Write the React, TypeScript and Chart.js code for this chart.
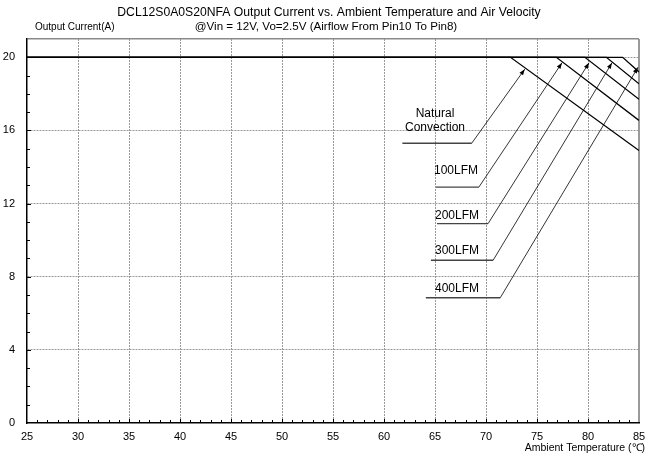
import React, { useEffect, useRef } from "react";
import { Chart, registerables } from "chart.js";

Chart.register(...registerables);

// ---- data ----
const titleLines = [
  "DCL12S0A0S20NFA Output Current vs. Ambient Temperature and Air Velocity",
  "@Vin = 12V, Vo=2.5V (Airflow From Pin10 To Pin8)",
];
const yAxisTitle = "Output Current(A)";
const xAxisTitle = "Ambient Temperature (\u2103)";

const tempMin = 25;
const tempMax = 85;
const currentMin = 0;
const currentMax = 21;
const xMajorStep = 5;
const yMajorStep = 4;
const yLabelMax = 20;

const curveNames = ["Natural Convection", "100LFM", "200LFM", "300LFM", "400LFM"];
const ratedCurrent = 20;
const deratingStart = [72.4, 76.9, 79.7, 81.8, 83.4];
const currentAt85 = [14.9, 16.55, 17.7, 18.55, 19.2];

// callouts (data coordinates)
const calloutText = [["Natural", "Convection"], ["100LFM"], ["200LFM"], ["300LFM"], ["400LFM"]];
const calloutTextX = [65.0, 64.9, 65.0, 65.0, 65.0];
const calloutTextY = [16.93, 13.8, 11.35, 9.4, 7.35];
const calloutAlign: CanvasTextAlign[] = ["center", "left", "left", "left", "left"];
const underlineStart = [61.8, 65.1, 65.2, 64.6, 64.1];
const underlineEnd = [68.6, 69.3, 70.2, 70.7, 71.4];
const underlineY = [15.3, 12.9, 10.9, 8.9, 6.85];
const arrowTipX = [73.8, 77.45, 80.1, 82.35, 84.9];
const arrowTipY = [19.35, 19.7, 19.7, 19.7, 19.45];

const FONT = "'Liberation Sans', Arial, sans-serif";

const overlayPlugin = {
  id: "overlay",
  afterDraw(chart: any) {
    const { ctx, chartArea, scales } = chart;
    const xs = scales.x;
    const ys = scales.y;
    ctx.save();
    // titles
    ctx.fillStyle = "#000";
    ctx.textBaseline = "middle";
    ctx.textAlign = "center";
    ctx.font = `12.2px ${FONT}`;
    ctx.fillText(titleLines[0], 329, 13);
    ctx.font = `11.6px ${FONT}`;
    ctx.fillText(titleLines[1], 326, 27);
    ctx.textAlign = "left";
    ctx.font = `10px ${FONT}`;
    ctx.fillText(yAxisTitle, 35, 27);
    ctx.textAlign = "right";
    ctx.font = `10.5px ${FONT}`;
    ctx.fillText(xAxisTitle, 645, 448);

    // inner tick marks
    ctx.strokeStyle = "#000";
    ctx.lineWidth = 1;
    ctx.beginPath();
    for (let v = tempMin + 1; v < tempMax; v++) {
      const px = Math.round(xs.getPixelForValue(v)) + 0.5;
      const len = v % xMajorStep === 0 ? 4 : 3;
      ctx.moveTo(px, chartArea.bottom);
      ctx.lineTo(px, chartArea.bottom - len);
    }
    for (let v = currentMin + 1; v < currentMax; v++) {
      const py = Math.round(ys.getPixelForValue(v)) + 0.5;
      const len = v % yMajorStep === 0 ? 4 : 3;
      ctx.moveTo(chartArea.left, py);
      ctx.lineTo(chartArea.left + len, py);
    }
    ctx.stroke();

    // callouts
    for (let i = 0; i < curveNames.length; i++) {
      const tx = xs.getPixelForValue(calloutTextX[i]);
      ctx.font = `12px ${FONT}`;
      ctx.textAlign = calloutAlign[i];
      ctx.textBaseline = "middle";
      ctx.fillStyle = "#000";
      const lines = calloutText[i];
      lines.forEach((ln, k) => {
        const ty = ys.getPixelForValue(calloutTextY[i] - k * 0.77);
        ctx.fillText(ln, tx, ty);
      });
      const uy = ys.getPixelForValue(underlineY[i]);
      const ux0 = xs.getPixelForValue(underlineStart[i]);
      const ux1 = xs.getPixelForValue(underlineEnd[i]);
      const ax = xs.getPixelForValue(arrowTipX[i]);
      const ay = ys.getPixelForValue(arrowTipY[i]);
      ctx.strokeStyle = "#444";
      ctx.lineWidth = 1.3;
      ctx.beginPath();
      ctx.moveTo(ux0, uy);
      ctx.lineTo(ux1, uy);
      ctx.stroke();
      ctx.strokeStyle = "#000";
      ctx.lineWidth = 0.8;
      ctx.beginPath();
      ctx.moveTo(ux1, uy);
      ctx.lineTo(ax, ay);
      ctx.stroke();
      // arrowhead
      const ang = Math.atan2(ay - uy, ax - ux1);
      const L = 6;
      const W = 2.2;
      const bx = ax - L * Math.cos(ang);
      const by = ay - L * Math.sin(ang);
      ctx.fillStyle = "#000";
      ctx.beginPath();
      ctx.moveTo(ax, ay);
      ctx.lineTo(bx + W * Math.sin(ang), by - W * Math.cos(ang));
      ctx.lineTo(bx - W * Math.sin(ang), by + W * Math.cos(ang));
      ctx.closePath();
      ctx.fill();
    }
    ctx.restore();
  },
};

export default function App() {
  const ref = useRef<HTMLCanvasElement>(null);
  useEffect(() => {
    if (!ref.current) return;
    const datasets = curveNames.map((name, i) => ({
      label: name,
      data: [
        { x: tempMin, y: ratedCurrent },
        { x: deratingStart[i], y: ratedCurrent },
        { x: tempMax, y: currentAt85[i] },
      ],
      borderColor: "#000",
      borderWidth: 1.3,
      pointRadius: 0,
      fill: false,
      tension: 0,
    }));
    const chart = new Chart(ref.current, {
      type: "line",
      data: { datasets },
      options: {
        animation: false,
        responsive: false,
        maintainAspectRatio: false,
        devicePixelRatio: 1,
        layout: { padding: { left: 0, right: 8, top: 39, bottom: 0 } },
        plugins: { legend: { display: false }, tooltip: { enabled: false }, title: { display: false } },
        scales: {
          x: {
            type: "linear",
            min: tempMin,
            max: tempMax,
            afterFit: (s: any) => { s.height = 33; s.paddingLeft = 0; s.paddingRight = 0; },
            ticks: {
              stepSize: 1,
              autoSkip: false,
              maxRotation: 0,
              padding: 7,
              color: "#000",
              font: { family: FONT, size: 11 },
              callback: (v: any) => (Number(v) % xMajorStep === 0 ? String(v) : ""),
            },
            grid: {
              drawTicks: false,
              lineWidth: (c: any) => (c.tick && c.tick.value === tempMax ? 2 : 1),
              color: (c: any) => {
                const v = c.tick ? c.tick.value : NaN;
                if (v === tempMin) return "transparent";
                return v % xMajorStep === 0 ? "#9a9a9a" : "transparent";
              },
            },
            border: {
              color: "#000",
              width: 1.5,
              dash: (c: any) => (c.tick && c.tick.value === tempMax ? [] : [2, 1]),
            },
          },
          y: {
            type: "linear",
            min: currentMin,
            max: currentMax,
            afterFit: (s: any) => { s.width = 27; s.paddingTop = 0; s.paddingBottom = 0; },
            ticks: {
              stepSize: 1,
              autoSkip: false,
              padding: 12,
              color: "#000",
              font: { family: FONT, size: 11 },
              callback: (v: any) => (Number(v) % yMajorStep === 0 && Number(v) <= yLabelMax ? String(v) : ""),
            },
            grid: {
              drawTicks: false,
              lineWidth: (c: any) => (c.tick && c.tick.value === currentMax ? 1.5 : 1),
              color: (c: any) => {
                const v = c.tick ? c.tick.value : NaN;
                if (v === currentMin) return "transparent";
                if (v === currentMax) return "#8a8a8a";
                return v % yMajorStep === 0 ? "#9a9a9a" : "transparent";
              },
            },
            border: {
              color: "#000",
              width: 1.5,
              dash: (c: any) => (c.tick && c.tick.value === currentMax ? [] : [2, 1]),
            },
          },
        },
      },
      plugins: [overlayPlugin],
    });
    return () => chart.destroy();
  }, []);
  return (
    <div style={{ position: "fixed", left: 0, top: 0, width: 647, height: 456, background: "#fff" }}>
      <canvas ref={ref} width={647} height={456} style={{ display: "block" }} />
    </div>
  );
}
